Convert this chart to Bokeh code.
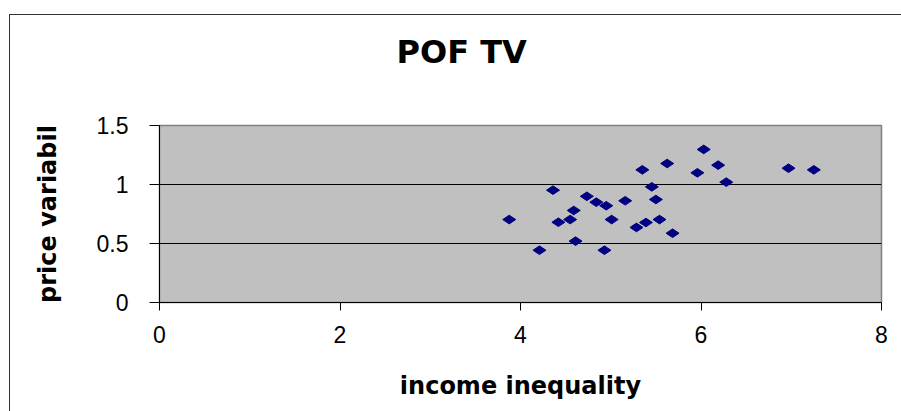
import math
from bokeh.plotting import figure
from bokeh.models import Range1d, FixedTicker, Title
from bokeh.embed import file_html
from bokeh.resources import INLINE

# ---- data ----
income_inequality = [3.875, 4.21, 4.36, 4.42, 4.55, 4.59, 4.61, 4.735, 4.84, 4.95,
                     4.93, 5.01, 5.16, 5.285, 5.39, 5.35, 5.455, 5.50, 5.54, 5.685,
                     5.625, 5.96, 6.03, 6.19, 6.28, 6.97, 7.25]
price_variabil = [0.703, 0.443, 0.952, 0.68, 0.703, 0.78, 0.52, 0.90, 0.85, 0.82,
                  0.443, 0.703, 0.862, 0.636, 0.678, 1.124, 0.98, 0.873, 0.703, 0.587,
                  1.178, 1.099, 1.297, 1.164, 1.02, 1.138, 1.124]
x_ticks = [0, 2, 4, 6, 8]
y_ticks = [0, 0.5, 1, 1.5]
y_tick_labels = ["0", "0.5", "1", "1.5"]
y_grid = [0.5, 1]
title_text = "POF TV"
x_label = "income inequality"
y_label = "price variabil"

p = figure(
    width=892, height=397,
    frame_width=722, frame_height=177,
    min_border_left=149, min_border_right=21,
    min_border_top=110, min_border_bottom=110,
    x_range=Range1d(0, 8), y_range=Range1d(0, 1.5),
    output_backend="svg", toolbar_location=None,
    background_fill_color="#C0C0C0", border_fill_color="white",
    margin=(14, 0, 0, 9),
)
p.styles = {"border-top": "1px solid #333333", "border-left": "1px solid #333333",
            "border-right": "none", "border-bottom": "none"}

# padding order here is (left, right, top, bottom)
t = Title(text=title_text, align="left", offset=237, standoff=0,
          vertical_align="top", padding=(0, 0, 17, 53),
          text_font="DejaVu Sans", text_font_size="32px", text_font_style="bold",
          text_color="black")
p.add_layout(t, "above")

p.outline_line_color = "#808080"
p.outline_line_width = 1.5

p.xgrid.visible = False
p.ygrid.ticker = FixedTicker(ticks=y_grid)
p.ygrid.grid_line_color = "black"
p.ygrid.grid_line_width = 1

p.xaxis.ticker = FixedTicker(ticks=x_ticks)
p.yaxis.ticker = FixedTicker(ticks=y_ticks)
p.yaxis.major_label_overrides = {v: s for v, s in zip(y_ticks, y_tick_labels)}

for ax in (p.xaxis, p.yaxis):
    ax.axis_line_color = "black"
    ax.axis_line_width = 1
    ax.major_tick_line_color = "black"
    ax.major_tick_in = 0
    ax.minor_tick_line_color = None
    ax.major_label_text_font = "Liberation Sans"
    ax.major_label_text_font_size = "23px"
    ax.major_label_text_color = "black"
    ax.axis_label_text_font = "DejaVu Sans"
    ax.axis_label_text_font_size = "24px"
    ax.axis_label_text_font_style = "bold"
    ax.axis_label_text_color = "black"

p.xaxis.major_tick_out = 8
p.xaxis.major_label_standoff = 15
p.xaxis.axis_label = x_label
p.xaxis.axis_label_standoff = 26

p.yaxis.major_tick_out = 10
p.yaxis.major_label_standoff = 21
p.yaxis.axis_label = y_label
p.yaxis.axis_label_standoff = 32

p.scatter(income_inequality, price_variabil, marker="diamond", size=13,
          angle=math.pi / 2, fill_color="#000080", line_color="#000080")

open("out.html", "w").write(file_html(p, INLINE))
